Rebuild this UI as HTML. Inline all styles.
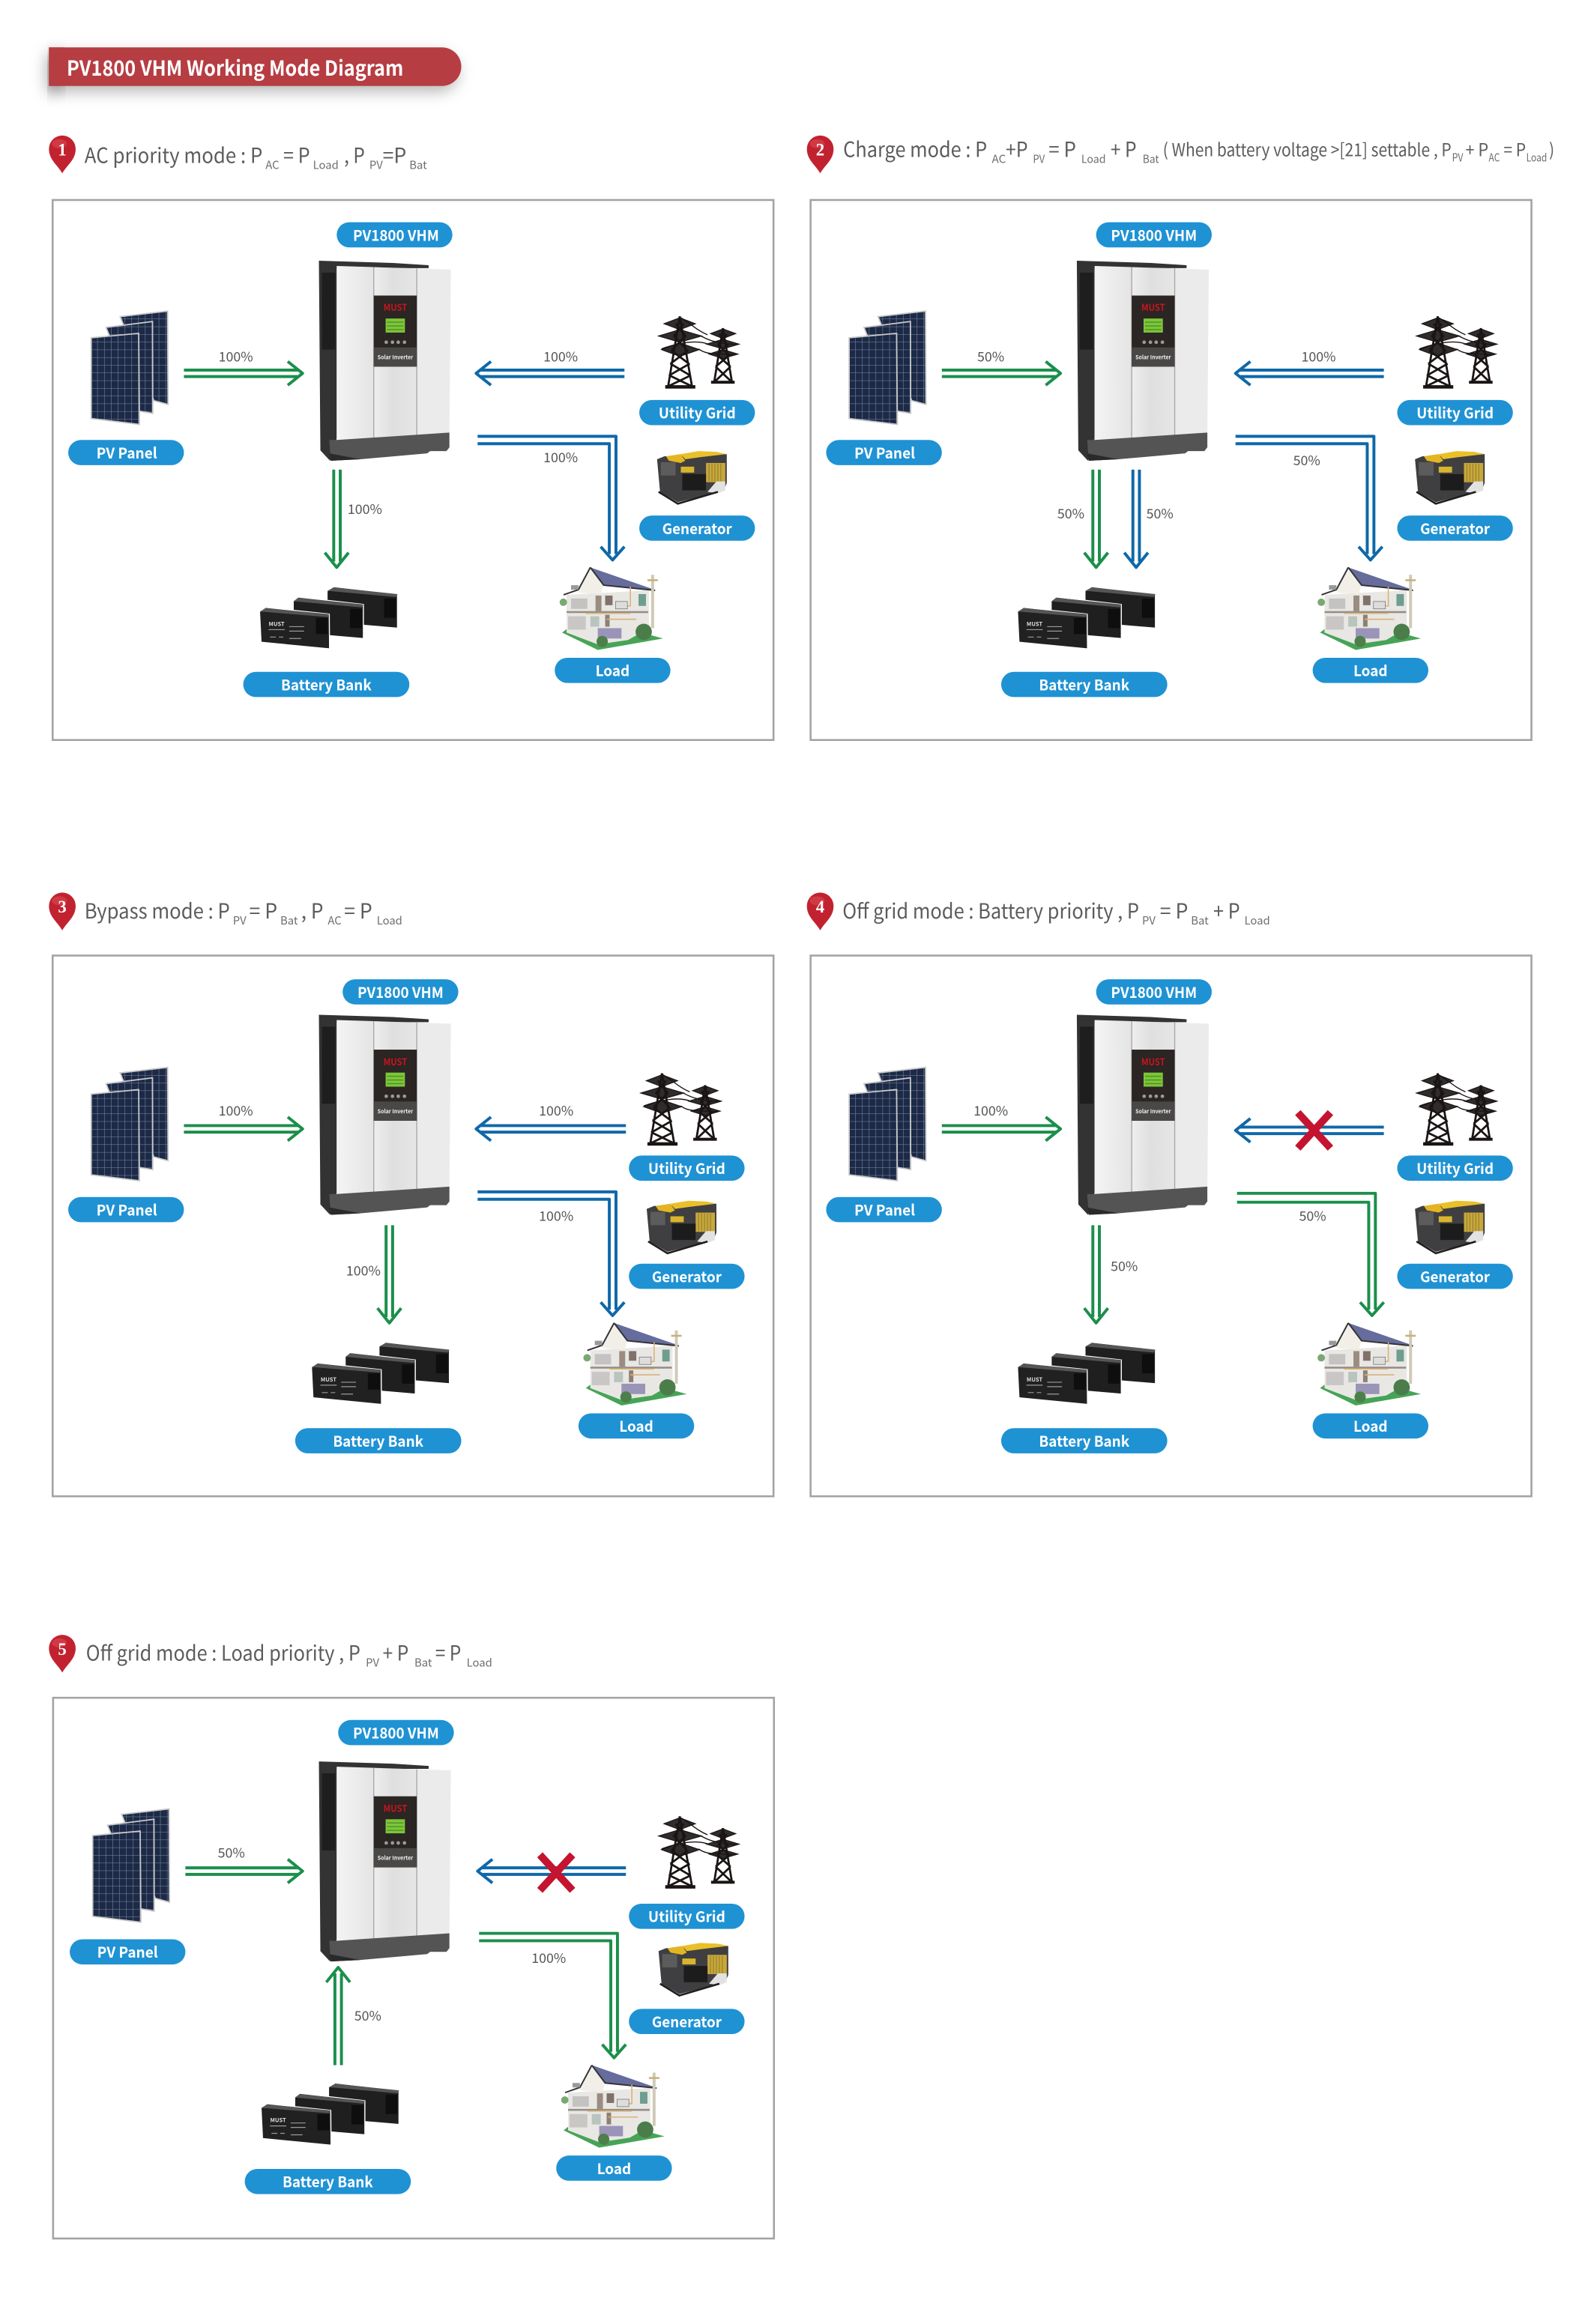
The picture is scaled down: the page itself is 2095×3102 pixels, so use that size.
<!DOCTYPE html>
<html><head><meta charset="utf-8"><title>PV1800 VHM Working Mode Diagram</title>
<style>
html,body{margin:0;padding:0;background:#fff}
svg{display:block}
text{font-family:"Noto Sans CJK SC","Liberation Sans",sans-serif}
.t{font-size:14px;fill:#5c5c5c}
.p{font-size:12px;fill:#5c5c5c}
.s{font-size:7.5px;fill:#6e6e6e}
.l{font-size:9px;fill:#555;text-anchor:middle}
.b{font-size:10px;font-weight:700;fill:#fff;text-anchor:middle}
.pill{fill:#1f92d4}
.g{stroke:#1b8f4b;stroke-width:2;fill:none;stroke-linejoin:round}
.u{stroke:#0f68a9;stroke-width:2;fill:none;stroke-linejoin:round}
.x{stroke:#c4142f;stroke-width:5;fill:none}
.n{font-family:"Liberation Serif",serif;font-size:11.500px;font-weight:700;fill:#fff;text-anchor:middle}
</style></head><body>
<svg xmlns="http://www.w3.org/2000/svg" width="2095" height="3102" viewBox="0 0 1058.5 1568.7" preserveAspectRatio="none">
<defs>
<filter id="sh" x="-10%" y="-60%" width="120%" height="240%"><feDropShadow dx="-2" dy="4" stdDeviation="5" flood-color="#000" flood-opacity=".28"/></filter>
<linearGradient id="wh" x1="0" x2="1" y1="0" y2="0"><stop offset="0" stop-color="#eeeeee"/><stop offset=".45" stop-color="#dfdfdf"/><stop offset="1" stop-color="#e6e6e6"/></linearGradient>
<linearGradient id="wl" x1="0" x2="1" y1="0" y2="0"><stop offset="0" stop-color="#f4f4f4"/><stop offset="1" stop-color="#e4e4e4"/></linearGradient>
<pattern id="cell" width="4.600" height="5.200" patternUnits="userSpaceOnUse"><rect width="4.600" height="5.200" fill="#1c2a47"/><path d="M0 0H4.600M0 0V5.200" stroke="#7f8ca3" stroke-width=".55"/></pattern>
<g id="pin"><path d="M0 15C-3 9.500-9 6-9-1.500A9 9 0 0 1 9-1.500C9 6 3 9.500 0 15Z" fill="#c2222f"/><ellipse cx="-2" cy="-5" rx="5" ry="3" fill="#e0525c" opacity=".5"/></g>
<g id="inv">
<path d="M0 0L50 1.500L74 3L74 5L12 5L12 120L7.500 135L1 128Z" fill="#333"/>
<path d="M2 8H11V60H2Z" fill="#1e1e1e"/>
<path d="M12 3.500L37 4.300V119.500L12 121Z" fill="url(#wl)"/>
<path d="M66 5.200L89 6L88 116L66 117.800Z" fill="#ebebeb"/>
<path d="M37 4.300L66 5.200L66 117.800L37 119.500Z" fill="url(#wh)"/>
<path d="M37 4.300V119.500M66 5.200V117.800" stroke="#a8a8a8" stroke-width=".7"/>
<path d="M12 121L88 116L88 126L86 128.500L75 128.500L73 130L28 134L8 135L7 121Z" fill="#545454"/>
<path d="M7 130L28 134L8 135Z" fill="#2a2a2a"/>
<rect x="37" y="23.500" width="29" height="48" fill="#2b2523"/>
<rect x="37" y="58.500" width="29" height="13" fill="#4a4846"/>
<text x="51.500" y="34" font-size="6.500" font-weight="700" fill="#c3161f" text-anchor="middle" textLength="16" lengthAdjust="spacingAndGlyphs">MUST</text>
<rect x="45" y="39" width="13" height="9.500" fill="#7cc63a"/>
<path d="M46 41.500H57M46 44H57M46 46.500H57" stroke="#4f8f22" stroke-width=".7"/>
<circle cx="45.400" cy="55" r="1.200" fill="#999"/><circle cx="49.600" cy="55" r="1.200" fill="#999"/><circle cx="53.500" cy="55" r="1.200" fill="#999"/><circle cx="57.700" cy="55" r="1.200" fill="#999"/>
<text x="51.500" y="66.500" font-size="3.800" font-weight="700" fill="#eee" text-anchor="middle" textLength="24" lengthAdjust="spacingAndGlyphs">Solar Inverter</text>
</g>
<g id="pv" stroke="#c9c9c9" stroke-width=".9" fill="url(#cell)">
<path d="M20 3.700L52 0L52.300 63L42.700 60.400Z"/>
<path d="M10.500 11L41.800 7L42 69L33 67.500Z"/>
<path d="M.5 18L32.500 15L33 76.500L.5 72.500Z"/>
</g>
<g id="tw" fill="#1a1514" stroke="#1a1514">
<g fill="none" stroke-width="1.400">
<path d="M14.300 1L6.500 48M14.300 1L22.500 48M11.500 6L18 14M17 6L10.500 14M10 14L19 23.500M18.500 14L9 23.500M8.500 24L20.500 33M20 24L8 33M8 33L21.500 41M21 33L7 41M7.500 41L22 48M21.500 41L7 48"/>
<path d="M43.400 9L37.500 45.500M43.400 9L49.500 45.500M41 13L46 20M46 13L40.500 20M40 20L47.500 27M47 20L39.500 27M39.500 27L48.500 35M48 27L38.500 35M38.500 35L49 45M48.500 35L38 45"/>
<path d="M15 2C22 6 25 10 33 13.500M28 14C32 16 36 19 52 20M27 23C32 27 38 26 52 27M2 23C10 20 25 16 34 20" stroke-width=".7"/>
</g>
<path d="M3.700 6L14.300 2L24.800 6L14.300 10Z M0 14.300L14.300 10L29 14.300L14.300 18.500Z M2 23.500L14.300 19L27.500 23.500L14.300 28Z M35 12.700L43.400 9.500L52 12.700L43.400 16Z M32.400 19.800L43.400 16.500L54.300 19.800L43.400 23Z M34 26.500L43.400 23.500L53.500 26.500L43.400 29.500Z" fill-opacity=".9" stroke-width=".6"/>
<rect x="4.500" y="47.500" width="20.300" height="2.300" stroke="none"/><rect x="35.400" y="44.500" width="15.900" height="2" stroke="none"/>
</g>
<g id="gen">
<path d="M0 6L5 4L47 2.500L47 22L45 27L14 35L2 28Z" fill="#3f3f41"/>
<path d="M6 4L16 2.500L19 7L16 8.500L8 7Z" fill="#e3b522"/>
<path d="M16 2.500L28 0.500L40 1L47 2.500L30 4.500L19 6Z" fill="#e9c02a"/>
<rect x="33" y="8.500" width="13" height="13" fill="#c8a83a"/>
<path d="M35 9V21M37 9V21M39 9V21M41 9V21M43 9V21" stroke="#8c7a2c" stroke-width=".5"/>
<rect x="16" y="11" width="9" height="4" fill="#d8b52c"/>
<rect x="2.500" y="8" width="10" height="9" fill="#5c5c5c"/>
<rect x="17" y="16" width="16" height="11" fill="#1c1c1c"/>
<path d="M34 28L40 21H46V27L41 29Z" fill="#e2e2e2"/>
<path d="M1 28L14 36L41 28" stroke="#1e1e1e" stroke-width="1.300" fill="none"/>
</g>
<g id="bt" stroke="#fff" stroke-width=".7">
<path d="M50 0L93 5L93 28L45.500 24L45.500 3Z" fill="#1f1f1f"/>
<path d="M45.500 3L50 .5L93 5L92 7L48 3Z" fill="#555" stroke="none"/>
<path d="M84 8H92V21H84Z" fill="#0e0e0e" stroke="none"/>
<path d="M26 7L70 12L70 35L22.700 31L22.700 10Z" fill="#1f1f1f"/>
<path d="M22.700 10L26 7.500L70 12L69 14L25 10Z" fill="#555" stroke="none"/>
<path d="M61 15H69V28H61Z" fill="#0e0e0e" stroke="none"/>
<path d="M4 14L47 18.500L47.200 42L1 37.500L0 17Z" fill="#212121"/>
<path d="M0 17L4 14.500L47 18.500L46 20.500L3 17Z" fill="#555" stroke="none"/>
<path d="M38 21H46V32H38Z" fill="#0e0e0e" stroke="none"/>
<text x="11.500" y="26.500" font-size="3.800" font-weight="700" fill="#ddd" stroke="none" text-anchor="middle">MUST</text>
<path d="M6 29H17M20 27H30M20 30H30M7 34H11M13 34H16M20 35H28" stroke="#9a9a9a" stroke-width=".6"/>
</g>
<g id="ho">
<path d="M0 44L24 55.700L68 48L50 43L5 40Z" fill="#47a457"/>
<path d="M3 18.500L49 16L58.500 15.200L58.500 41L44.500 49L24 52L3 44Z" fill="#e9e7e3"/>
<path d="M11 17L19 0L28 12L26 18Z" fill="#f2efe9"/>
<path d="M19 0L62.700 15.200L28 11.800Z" fill="#666c9c"/>
<path d="M19 0L28 12L62.700 15.500M19 0L11 15L1 18.500" stroke="#333" stroke-width="1" fill="none"/>
<rect x="6" y="12" width="5" height="3" fill="#999"/>
<rect x="22.500" y="19" width="4" height="10.500" fill="#9a8c80"/><rect x="29" y="19" width="5" height="6.500" fill="#80716a"/>
<rect x="51.500" y="18" width="5" height="8" fill="#6f9d90"/>
<rect x="3" y="29.500" width="55" height="1.300" fill="#948e86"/>
<rect x="6" y="21" width="11" height="7" fill="#c5c2c2"/><rect x="4" y="33" width="12" height="9" fill="#c9c6c6"/><rect x="19" y="33" width="6" height="7" fill="#b9c4be"/><rect x="29" y="32" width="3" height="8" fill="#8d7f74"/>
<path d="M46 13V26H38M30 35H50M16 31H46" stroke="#d9b27a" stroke-width=".8" fill="none"/>
<rect x="24" y="41" width="16" height="7" fill="#9a94b8"/><rect x="36" y="23" width="8" height="5" fill="#ddd" stroke="#777" stroke-width=".4"/>
<rect x="60" y="5" width="2" height="36" fill="#cfc9b6"/><rect x="57.500" y="8" width="7" height="1.300" fill="#c9b080"/>
<circle cx="27" cy="50" r="3.800" fill="#4d7f4a"/><circle cx="55" cy="43.500" r="5.500" fill="#4a7d4a"/><circle cx="0.800" cy="23.500" r="2.500" fill="#7aa873"/>
</g>
</defs>
<rect y="-1" width="1060" height="1572" fill="#fff"/>

<rect x="33" y="32" width="10" height="26" fill="#b5393f" filter="url(#sh)"/>
<path d="M33 32H298A13 13 0 0 1 298 58H33Z" fill="#b63c42" filter="url(#sh)"/>
<text x="45" y="51" font-size="14" font-weight="700" fill="#fff" textLength="227" lengthAdjust="spacingAndGlyphs">PV1800 VHM Working Mode Diagram</text>

<!-- Titles -->
<use href="#pin" x="42" y="102"/><text class="n" x="42" y="105">1</text>
<text class="t" x="57" y="110" textLength="120" lengthAdjust="spacingAndGlyphs">AC priority mode : P</text><text class="s" x="179" y="114">AC</text><text class="t" x="191" y="110" textLength="18" lengthAdjust="spacingAndGlyphs">= P</text><text class="s" x="211" y="114">Load</text><text class="t" x="232" y="110" textLength="14" lengthAdjust="spacingAndGlyphs">, P</text><text class="s" x="249" y="114">PV</text><text class="t" x="258" y="110" textLength="16" lengthAdjust="spacingAndGlyphs">=P</text><text class="s" x="276" y="114">Bat</text>

<use href="#pin" x="553" y="102"/><text class="n" x="553" y="105">2</text>
<text class="t" x="568.500" y="106" textLength="97" lengthAdjust="spacingAndGlyphs">Charge mode : P</text><text class="s" x="668.700" y="110" textLength="9.500" lengthAdjust="spacingAndGlyphs">AC</text><text class="t" x="678" y="106" textLength="15" lengthAdjust="spacingAndGlyphs">+P</text><text class="s" x="696.400" y="110" textLength="8" lengthAdjust="spacingAndGlyphs">PV</text><text class="t" x="707" y="106" textLength="18.500" lengthAdjust="spacingAndGlyphs">= P</text><text class="s" x="729" y="110" textLength="16.500" lengthAdjust="spacingAndGlyphs">Load</text><text class="t" x="748.700" y="106" textLength="17.500" lengthAdjust="spacingAndGlyphs">+ P</text><text class="s" x="770.400" y="110" textLength="11" lengthAdjust="spacingAndGlyphs">Bat</text>
<text class="p" x="784" y="105.500" textLength="194.500" lengthAdjust="spacingAndGlyphs">( When battery voltage &gt;[21] settable , P</text><text class="s" x="979" y="109" textLength="7.500" lengthAdjust="spacingAndGlyphs">PV</text><text class="p" x="988" y="105.500" textLength="15.500" lengthAdjust="spacingAndGlyphs">+ P</text><text class="s" x="1003.700" y="109" textLength="7.500" lengthAdjust="spacingAndGlyphs">AC</text><text class="p" x="1013.700" y="105.500" textLength="15" lengthAdjust="spacingAndGlyphs">= P</text><text class="s" x="1029" y="109" textLength="14" lengthAdjust="spacingAndGlyphs">Load</text><text class="p" x="1044.400" y="105.500" textLength="3.500" lengthAdjust="spacingAndGlyphs">)</text>

<use href="#pin" x="42" y="613"/><text class="n" x="42" y="616">3</text>
<text class="t" x="57" y="620" textLength="98" lengthAdjust="spacingAndGlyphs">Bypass mode : P</text><text class="s" x="157" y="624">PV</text><text class="t" x="168" y="620" textLength="19" lengthAdjust="spacingAndGlyphs">= P</text><text class="s" x="189" y="624">Bat</text><text class="t" x="203" y="620" textLength="15" lengthAdjust="spacingAndGlyphs">, P</text><text class="s" x="221" y="624">AC</text><text class="t" x="232" y="620" textLength="19" lengthAdjust="spacingAndGlyphs">= P</text><text class="s" x="254" y="624">Load</text>

<use href="#pin" x="553" y="613"/><text class="n" x="553" y="616">4</text>
<text class="t" x="568" y="620" textLength="200" lengthAdjust="spacingAndGlyphs">Off grid mode : Battery priority , P</text><text class="s" x="770" y="624">PV</text><text class="t" x="782" y="620" textLength="19" lengthAdjust="spacingAndGlyphs">= P</text><text class="s" x="803" y="624">Bat</text><text class="t" x="818" y="620" textLength="18" lengthAdjust="spacingAndGlyphs">+ P</text><text class="s" x="839" y="624">Load</text>

<use href="#pin" x="42" y="1114"/><text class="n" x="42" y="1117">5</text>
<text class="t" x="58" y="1121" textLength="185" lengthAdjust="spacingAndGlyphs">Off grid mode : Load priority , P</text><text class="s" x="246.600" y="1125">PV</text><text class="t" x="258" y="1121" textLength="17.500" lengthAdjust="spacingAndGlyphs">+ P</text><text class="s" x="279.400" y="1125">Bat</text><text class="t" x="293.400" y="1121" textLength="17.500" lengthAdjust="spacingAndGlyphs">= P</text><text class="s" x="314.600" y="1125">Load</text>

<!-- Boxes -->
<g fill="none" stroke="#a3a3a3" stroke-width="1.300">
<rect x="35.500" y="135" width="486" height="364.500"/>
<rect x="546.500" y="135" width="486" height="364.500"/>
<rect x="35.500" y="645" width="486" height="365"/>
<rect x="546.500" y="645" width="486" height="365"/>
<rect x="35.800" y="1146" width="486" height="365"/>
</g>

<!-- PANEL 1 -->
<use href="#inv" x="215" y="176"/><use href="#pv" x="61" y="210"/><use href="#tw" x="444" y="212.500"/><use href="#gen" x="443" y="304"/><use href="#bt" x="175" y="396"/><use href="#ho" x="379" y="383"/>
<rect class="pill" x="227" y="150" width="78" height="17" rx="8.500"/><text class="b" x="267" y="162.500" textLength="58" lengthAdjust="spacingAndGlyphs">PV1800 VHM</text>
<rect class="pill" x="46" y="297" width="78" height="17" rx="8.500"/><text class="b" x="85.500" y="309.500" textLength="41" lengthAdjust="spacingAndGlyphs">PV Panel</text>
<rect class="pill" x="431" y="270" width="78" height="17" rx="8.500"/><text class="b" x="470" y="282.500" textLength="52" lengthAdjust="spacingAndGlyphs">Utility Grid</text>
<rect class="pill" x="431" y="348" width="78" height="17" rx="8.500"/><text class="b" x="470" y="360.500" textLength="47" lengthAdjust="spacingAndGlyphs">Generator</text>
<rect class="pill" x="164" y="453.500" width="112" height="17" rx="8.500"/><text class="b" x="220" y="466" textLength="61" lengthAdjust="spacingAndGlyphs">Battery Bank</text>
<rect class="pill" x="374" y="444" width="78" height="17" rx="8.500"/><text class="b" x="413" y="456.500" textLength="23" lengthAdjust="spacingAndGlyphs">Load</text>
<path class="g" d="M124 249.800H201M124 254.200H201M194 244L204 252L194 260"/>
<path class="u" d="M421 249.800H324M421 254.200H324M331 244L321 252L331 260"/>
<path class="u" d="M322 294.500H415.300V374M322 299.500H410.800V374M405 369L413 378L421 369"/>
<path class="g" d="M225 317V379M229.400 317V379M219 373L227 383L235 373"/>
<text class="l" x="159" y="244">100%</text><text class="l" x="378" y="244">100%</text><text class="l" x="378" y="312">100%</text><text class="l" x="246" y="347">100%</text>

<!-- PANEL 2 -->
<use href="#inv" x="726" y="176"/><use href="#pv" x="572" y="210"/><use href="#tw" x="955" y="212.500"/><use href="#gen" x="954" y="304"/><use href="#bt" x="686" y="396"/><use href="#ho" x="890" y="383"/>
<rect class="pill" x="739" y="150" width="78" height="17" rx="8.500"/><text class="b" x="778" y="162.500" textLength="58" lengthAdjust="spacingAndGlyphs">PV1800 VHM</text>
<rect class="pill" x="557" y="297" width="78" height="17" rx="8.500"/><text class="b" x="596.500" y="309.500" textLength="41" lengthAdjust="spacingAndGlyphs">PV Panel</text>
<rect class="pill" x="942" y="270" width="78" height="17" rx="8.500"/><text class="b" x="981" y="282.500" textLength="52" lengthAdjust="spacingAndGlyphs">Utility Grid</text>
<rect class="pill" x="942" y="348" width="78" height="17" rx="8.500"/><text class="b" x="981" y="360.500" textLength="47" lengthAdjust="spacingAndGlyphs">Generator</text>
<rect class="pill" x="675" y="453.500" width="112" height="17" rx="8.500"/><text class="b" x="731" y="466" textLength="61" lengthAdjust="spacingAndGlyphs">Battery Bank</text>
<rect class="pill" x="885" y="444" width="78" height="17" rx="8.500"/><text class="b" x="924" y="456.500" textLength="23" lengthAdjust="spacingAndGlyphs">Load</text>
<path class="g" d="M635 249.800H712M635 254.200H712M705 244L715 252L705 260"/>
<path class="u" d="M933 249.800H836M933 254.200H836M843 244L833 252L843 260"/>
<path class="u" d="M833 294.500H926.300V374M833 299.500H921.800V374M916 369L924 378L932 369"/>
<path class="g" d="M736.800 317V379M741.200 317V379M731 373L739 383L747 373"/>
<path class="u" d="M763.800 317V379M768.200 317V379M758 373L766 383L774 373"/>
<text class="l" x="668" y="244">50%</text><text class="l" x="889" y="244">100%</text><text class="l" x="881" y="314">50%</text><text class="l" x="722" y="350">50%</text><text class="l" x="782" y="350">50%</text>

<!-- PANEL 3 -->
<use href="#inv" x="215" y="685"/><use href="#pv" x="61" y="720.500"/><use href="#tw" x="432" y="723.500"/><use href="#gen" x="436" y="810"/><use href="#bt" x="210" y="906"/><use href="#ho" x="395" y="893"/>
<rect class="pill" x="231" y="661" width="78" height="17" rx="8.500"/><text class="b" x="270" y="673.500" textLength="58" lengthAdjust="spacingAndGlyphs">PV1800 VHM</text>
<rect class="pill" x="46" y="808" width="78" height="17" rx="8.500"/><text class="b" x="85.500" y="820.500" textLength="41" lengthAdjust="spacingAndGlyphs">PV Panel</text>
<rect class="pill" x="424" y="780" width="78" height="17" rx="8.500"/><text class="b" x="463" y="792.500" textLength="52" lengthAdjust="spacingAndGlyphs">Utility Grid</text>
<rect class="pill" x="424" y="853" width="78" height="17" rx="8.500"/><text class="b" x="463" y="865.500" textLength="47" lengthAdjust="spacingAndGlyphs">Generator</text>
<rect class="pill" x="199" y="964" width="112" height="17" rx="8.500"/><text class="b" x="255" y="976.500" textLength="61" lengthAdjust="spacingAndGlyphs">Battery Bank</text>
<rect class="pill" x="390" y="954" width="78" height="17" rx="8.500"/><text class="b" x="429" y="966.500" textLength="23" lengthAdjust="spacingAndGlyphs">Load</text>
<path class="g" d="M124 759.800H201M124 764.200H201M194 754L204 762L194 770"/>
<path class="u" d="M422 759.800H324M422 764.200H324M331 754L321 762L331 770"/>
<path class="u" d="M322 804.500H415.300V884M322 809.500H410.800V884M405 879L413 888L421 879"/>
<path class="g" d="M260.300 827V889M264.700 827V889M254.500 883L262.500 893L270.500 883"/>
<text class="l" x="159" y="753">100%</text><text class="l" x="375" y="753">100%</text><text class="l" x="375" y="824">100%</text><text class="l" x="245" y="861">100%</text>

<!-- PANEL 4 -->
<use href="#inv" x="726" y="685"/><use href="#pv" x="572" y="720.500"/><use href="#tw" x="955" y="723.500"/><use href="#gen" x="954" y="810"/><use href="#bt" x="686" y="906"/><use href="#ho" x="890" y="893"/>
<rect class="pill" x="739" y="661" width="78" height="17" rx="8.500"/><text class="b" x="778" y="673.500" textLength="58" lengthAdjust="spacingAndGlyphs">PV1800 VHM</text>
<rect class="pill" x="557" y="808" width="78" height="17" rx="8.500"/><text class="b" x="596.500" y="820.500" textLength="41" lengthAdjust="spacingAndGlyphs">PV Panel</text>
<rect class="pill" x="942" y="780" width="78" height="17" rx="8.500"/><text class="b" x="981" y="792.500" textLength="52" lengthAdjust="spacingAndGlyphs">Utility Grid</text>
<rect class="pill" x="942" y="853" width="78" height="17" rx="8.500"/><text class="b" x="981" y="865.500" textLength="47" lengthAdjust="spacingAndGlyphs">Generator</text>
<rect class="pill" x="675" y="964" width="112" height="17" rx="8.500"/><text class="b" x="731" y="976.500" textLength="61" lengthAdjust="spacingAndGlyphs">Battery Bank</text>
<rect class="pill" x="885" y="954" width="78" height="17" rx="8.500"/><text class="b" x="924" y="966.500" textLength="23" lengthAdjust="spacingAndGlyphs">Load</text>
<path class="g" d="M635 759.800H712M635 764.200H712M705 754L715 762L705 770"/>
<path class="u" d="M933 760.800H836M933 765.200H836M843 755L833 763L843 771"/>
<path class="x" d="M875 751L897 775M897 751L875 775"/>
<path class="g" d="M834 805.500H927.300V884M834 811.500H922.800V884M917 879L925 888L933 879"/>
<path class="g" d="M736.800 827V889M741.200 827V889M731 883L739 893L747 883"/>
<text class="l" x="668" y="753">100%</text><text class="l" x="885" y="824">50%</text><text class="l" x="758" y="858">50%</text>

<!-- PANEL 5 -->
<use href="#inv" x="215" y="1189"/><use href="#pv" x="62" y="1221"/><use href="#tw" x="444" y="1225"/><use href="#gen" x="444" y="1311"/><use href="#bt" x="176" y="1406"/><use href="#ho" x="380" y="1394"/>
<rect class="pill" x="228" y="1161" width="78" height="17" rx="8.500"/><text class="b" x="267" y="1173.500" textLength="58" lengthAdjust="spacingAndGlyphs">PV1800 VHM</text>
<rect class="pill" x="47" y="1309" width="78" height="17" rx="8.500"/><text class="b" x="86" y="1321.500" textLength="41" lengthAdjust="spacingAndGlyphs">PV Panel</text>
<rect class="pill" x="424" y="1285" width="78" height="17" rx="8.500"/><text class="b" x="463" y="1297.500" textLength="52" lengthAdjust="spacingAndGlyphs">Utility Grid</text>
<rect class="pill" x="424" y="1356" width="78" height="17" rx="8.500"/><text class="b" x="463" y="1368.500" textLength="47" lengthAdjust="spacingAndGlyphs">Generator</text>
<rect class="pill" x="165" y="1464" width="112" height="17" rx="8.500"/><text class="b" x="221" y="1476.500" textLength="61" lengthAdjust="spacingAndGlyphs">Battery Bank</text>
<rect class="pill" x="375" y="1455" width="78" height="17" rx="8.500"/><text class="b" x="414" y="1467.500" textLength="23" lengthAdjust="spacingAndGlyphs">Load</text>
<path class="g" d="M125 1260.800H201M125 1265.200H201M194 1255L204 1263L194 1271"/>
<path class="u" d="M422 1260.800H325M422 1265.200H325M332 1255L322 1263L332 1271"/>
<path class="x" d="M364 1252L386 1276M386 1252L364 1276"/>
<path class="g" d="M323 1305H416.300V1385M323 1310H411.800V1385M406 1380L414 1389L422 1380"/>
<path class="g" d="M225.800 1394V1332M230.200 1394V1332M220 1338L228 1328L236 1338"/>
<text class="l" x="156" y="1254">50%</text><text class="l" x="370" y="1325">100%</text><text class="l" x="248" y="1364">50%</text>
</svg>
</body></html>
